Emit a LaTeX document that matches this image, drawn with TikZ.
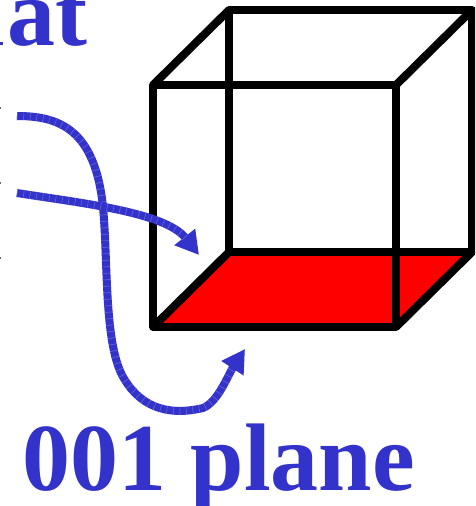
\documentclass[tikz,border=0pt]{standalone}
\usepackage{fontspec}
\setmainfont{Liberation Serif}
\usepackage{xcolor}
\usepackage{tikz}
\usetikzlibrary{arrows.meta,positioning}
\definecolor{labelblue}{HTML}{3333CC}
\tikzset{
  edge/.style={draw=black, line width=8pt, line join=round},
  floorplane/.style={fill=red},
  label/.style={text=labelblue, font=\fontsize{96}{96}\selectfont\bfseries, inner sep=0pt, anchor=base west},
  arrow/.style={-{Triangle[length=23pt, width=25pt]}, draw=labelblue, line width=8pt,
    postaction={draw=labelblue!72!white, -, line width=8pt, shorten >=22pt, dash pattern=on 0.5pt off 6pt}},
  speck/.style={fill=black!60, inner sep=0pt, minimum width=2pt, minimum height=2pt}
}

\begin{document}
\begin{tikzpicture}[x=1pt, y=-1pt]
  \useasboundingbox (0,0) rectangle (475,506);
  \clip (0,0) rectangle (475,506);
  % front face
  \coordinate (ftl) at (153,85);
  \coordinate (ftr) at (396,85);
  \coordinate (fbl) at (153,327);
  \coordinate (fbr) at (396,327);
  % back face
  \coordinate (btl) at (229,10);
  \coordinate (btr) at (472,10);
  \coordinate (bbl) at (229,252);
  \coordinate (bbr) at (472,252);

  \fill[floorplane] (fbl) -- (bbl) -- (bbr) -- (fbr) -- cycle;

  \draw[edge] (btl) -- (btr) -- (bbr) -- (bbl) -- cycle;
  \draw[edge] (ftl) -- (ftr) -- (fbr) -- (fbl) -- cycle;
  \draw[edge] (ftl) -- (btl);
  \draw[edge] (ftr) -- (btr);
  \draw[edge] (fbl) -- (bbl);
  \draw[edge] (fbr) -- (bbr);

  \node[label] (flat) at (7.7,45) {at};
  \node[label] (plane) at (22.5,490) {001 plane};

  \node[speck, fill=labelblue, minimum width=4pt, minimum height=3pt] (serif) at (0.5,43.5) {};
  \node[speck] (speck1) at (0,108) {};
  \node[speck] (speck2) at (0,183) {};
  \node[speck] (speck3) at (0,258) {};

  \coordinate (start1) at (17,116);
  \coordinate (end1) at (245,349);
  \coordinate (start2) at (17,193);
  \coordinate (end2) at (199,255);

  \draw[arrow] (start1) .. controls (60,116) and (95,130) .. (103,207)
    .. controls (108,260) and (104,340) .. (122,375)
    .. controls (138,405) and (165,417) .. (203,408)
    .. controls (218,402) and (228,375) .. (end1);
  \draw[arrow] (start2) .. controls (80,203) and (165,212) .. (end2);
\end{tikzpicture}
\end{document}
